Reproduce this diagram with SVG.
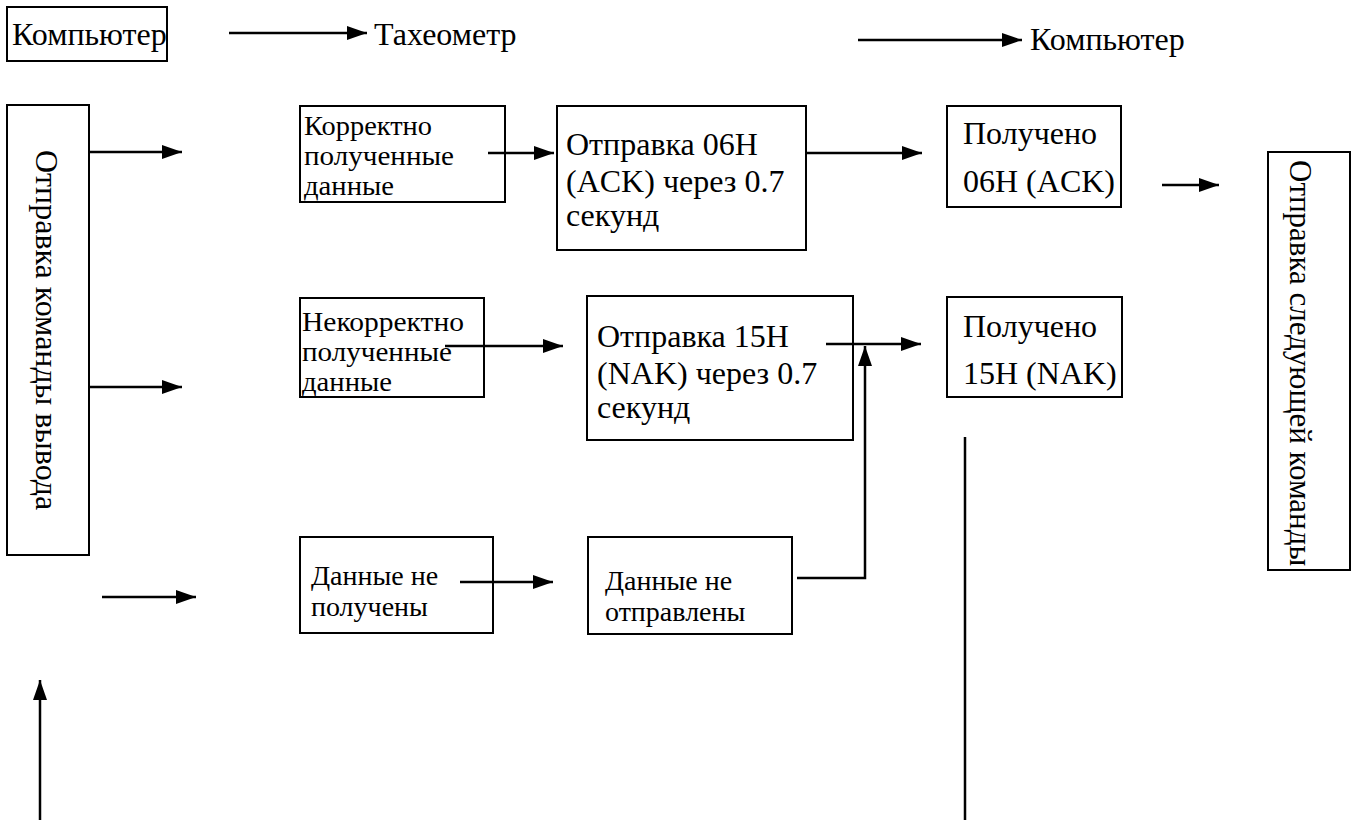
<svg xmlns="http://www.w3.org/2000/svg" width="1354" height="820" viewBox="0 0 1354 820">
<defs>
<style>
.box{fill:#fff;stroke:#000;stroke-width:2}
.t{font-family:"Liberation Serif","Times New Roman",serif;fill:#000}
.s27{font-size:27px}
.s28{font-size:28px}
.s31{font-size:31px}
.s32{font-size:32px}
.ln{fill:none;stroke:#000;stroke-width:2.5}
</style>
<marker id="ah" viewBox="0 0 20 14" refX="20" refY="7" markerWidth="20" markerHeight="14" markerUnits="userSpaceOnUse" orient="auto">
<path d="M0,0 L20,7 L0,14 z" fill="#000"/>
</marker>
</defs>
<rect width="1354" height="820" fill="#fff"/>

<g id="hdr-computer1">
<rect class="box" x="7" y="7" width="160" height="54"/>
<text class="t s32" x="12" y="45">Компьютер</text>
</g>
<g id="hdr-taheometr">
<text class="t s32" x="374" y="45">Тахеометр</text>
</g>
<g id="hdr-computer2">
<text class="t s32" x="1030" y="50">Компьютер</text>
</g>

<g id="send-output">
<rect class="box" x="7" y="105" width="82" height="450"/>
<text class="t s32" transform="translate(36,150) rotate(90)">Отправка команды вывода</text>
</g>

<g id="ok-recv">
<rect class="box" x="300" y="106" width="205" height="96"/>
<text class="t s27" x="304" y="135"><tspan textLength="128" lengthAdjust="spacingAndGlyphs">Корректно</tspan><tspan x="304" dy="30" textLength="150" lengthAdjust="spacingAndGlyphs">полученные</tspan><tspan x="304" dy="30" textLength="90" lengthAdjust="spacingAndGlyphs">данные</tspan></text>
</g>
<g id="send-ack">
<rect class="box" x="557" y="106" width="249" height="144"/>
<text class="t s32" x="566" y="155">Отправка 06H<tspan x="566" dy="37">(ACK) через 0.7</tspan><tspan x="566" dy="34">секунд</tspan></text>
</g>
<g id="got-ack">
<rect class="box" x="947" y="106" width="174" height="101"/>
<text class="t s32" x="963" y="144">Получено<tspan x="963" dy="48">06H (ACK)</tspan></text>
</g>
<g id="send-next">
<rect class="box" x="1268" y="152" width="82" height="418"/>
<text class="t s31" transform="translate(1290,160) rotate(90)">Отправка следующей команды</text>
</g>

<g id="bad-recv">
<rect class="box" x="300" y="298" width="184" height="99"/>
<text class="t s27" x="302" y="331"><tspan textLength="162" lengthAdjust="spacingAndGlyphs">Некорректно</tspan><tspan x="302" dy="30" textLength="150" lengthAdjust="spacingAndGlyphs">полученные</tspan><tspan x="302" dy="30" textLength="90" lengthAdjust="spacingAndGlyphs">данные</tspan></text>
</g>
<g id="send-nak">
<rect class="box" x="587" y="296" width="266" height="144"/>
<text class="t s32" x="597" y="347">Отправка 15H<tspan x="597" dy="37">(NAK) через 0.7</tspan><tspan x="597" dy="34">секунд</tspan></text>
</g>
<g id="got-nak">
<rect class="box" x="947" y="297" width="175" height="100"/>
<text class="t s32" x="963" y="337">Получено<tspan x="963" dy="47">15H (NAK)</tspan></text>
</g>

<g id="no-recv">
<rect class="box" x="300" y="537" width="193" height="96"/>
<text class="t s28" x="311" y="585">Данные не<tspan x="311" dy="31">получены</tspan></text>
</g>
<g id="no-send">
<rect class="box" x="588" y="537" width="204" height="97"/>
<text class="t s28" x="605" y="590">Данные не<tspan x="605" dy="31">отправлены</tspan></text>
</g>

<g id="connectors">
<line class="ln" x1="229" y1="33" x2="367" y2="33" marker-end="url(#ah)"/>
<line class="ln" x1="858" y1="40" x2="1022" y2="40" marker-end="url(#ah)"/>
<line class="ln" x1="88" y1="152" x2="182" y2="152" marker-end="url(#ah)"/>
<line class="ln" x1="88" y1="387" x2="182" y2="387" marker-end="url(#ah)"/>
<line class="ln" x1="102" y1="597" x2="196" y2="597" marker-end="url(#ah)"/>
<line class="ln" x1="488" y1="153" x2="554" y2="153" marker-end="url(#ah)"/>
<line class="ln" x1="806" y1="153" x2="922" y2="153" marker-end="url(#ah)"/>
<line class="ln" x1="1162" y1="185" x2="1219" y2="185" marker-end="url(#ah)"/>
<line class="ln" x1="445" y1="346" x2="563" y2="346" marker-end="url(#ah)"/>
<line class="ln" x1="826" y1="344" x2="921" y2="344" marker-end="url(#ah)"/>
<polyline class="ln" points="797,578 865,578 865,346" marker-end="url(#ah)"/>
<line class="ln" x1="460" y1="582" x2="553" y2="582" marker-end="url(#ah)"/>
<line class="ln" x1="40" y1="820" x2="40" y2="680" marker-end="url(#ah)"/>
<line class="ln" x1="965" y1="437" x2="965" y2="820"/>
</g>
</svg>
